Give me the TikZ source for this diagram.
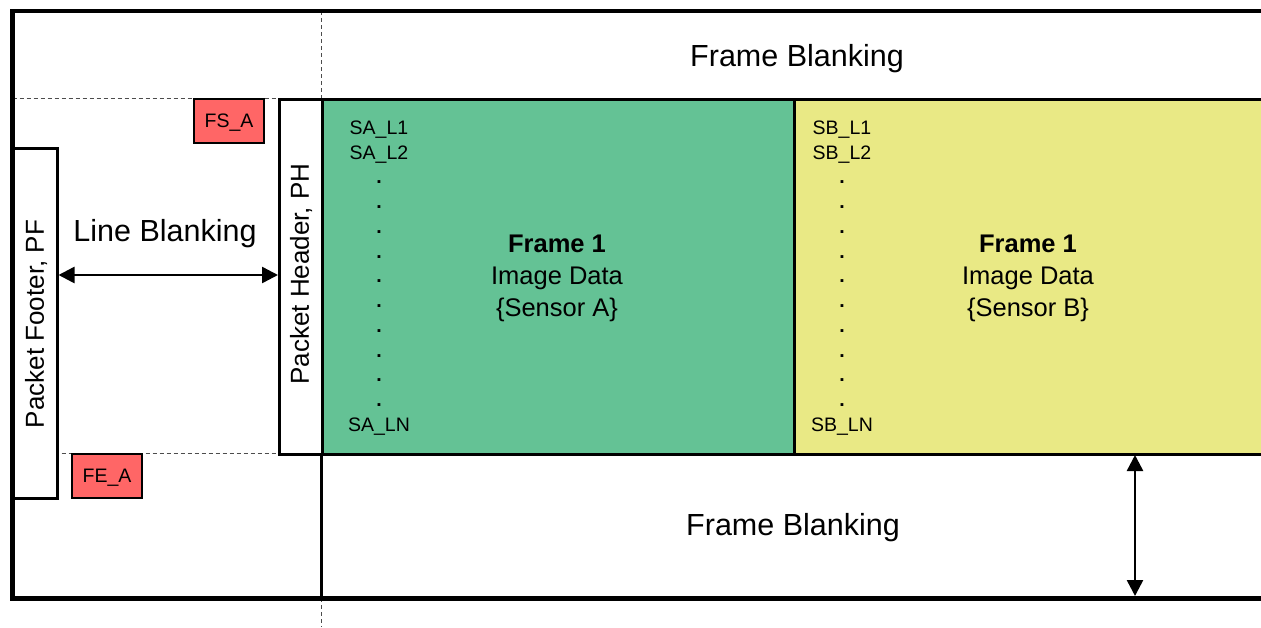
\documentclass[tikz,border=0pt]{standalone}
\usepackage{fontspec}
\setmainfont{Liberation Sans}
\usetikzlibrary{arrows.meta}
\definecolor{grn}{RGB}{100,194,149}
\definecolor{ylw}{RGB}{233,233,133}
\definecolor{rd}{RGB}{255,102,102}
\newcommand{\dt}{\textbf{.}}
\tikzset{
  box/.style={draw=black, line width=2.5pt, inner sep=0pt, anchor=north west},
  tag/.style={box, fill=rd, line width=2pt},
  dsh/.style={draw=black!70, line width=0.9pt, dash pattern=on 4pt off 3pt},
  dbl/.style={line width=2.5pt, {Triangle[length=16pt,width=16pt]}-{Triangle[length=16pt,width=16pt]}},
  big/.style={font=\fontsize{30.5}{36}\selectfont},
  mid/.style={font=\fontsize{25.5}{32}\selectfont, align=center},
  small/.style={font=\fontsize{19.5}{24.75}\selectfont, align=center},
  tagtxt/.style={font=\fontsize{19.5}{24}\selectfont},
  side/.style={rotate=90, font=\fontsize{26}{30}\selectfont}
}
\begin{document}
\begin{tikzpicture}[x=1pt,y=-1pt]
\useasboundingbox (0,0) rectangle (1261,627);
% dashed guides
\coordinate (vtop) at (321.5,11);
\coordinate (vbot) at (321.5,627);
\draw[dsh] (vtop) -- (321.5,98);
\draw[dsh] (321.5,598) -- (vbot);
\draw[dsh] (12.5,98) -- (278,98);
\draw[dsh] (12.5,453) -- (278,453);
% data boxes
\node[box, fill=grn, minimum width=472pt, minimum height=355pt] (ga) at (321,98) {};
\node[box, fill=ylw, minimum width=480pt, minimum height=355pt] (yb) at (793,98) {};
% header / footer
\node[box, fill=white, minimum width=43pt, minimum height=355pt] (ph) at (278,98) {};
\node[box, fill=white, minimum width=44pt, minimum height=350pt] (pf) at (12,147) {};
\node[side] (pht) at (301,274) {Packet Header, PH};
\node[side] (pft) at (36,324) {Packet Footer, PF};
% vertical divider below
\coordinate (dv1) at (321.5,453);
\coordinate (dv2) at (321.5,598);
\draw[line width=2.5pt] (dv1) -- (dv2);
% outer frame
\draw[line width=4.5pt, line join=miter] (1265,11) -- (12.5,11) -- (12.5,598.5) -- (1265,598.5);
% tags
\node[tag, minimum width=70pt, minimum height=44pt] (fs) at (193,98) {};
\node[tagtxt] at ([yshift=-2pt]fs.center) {FS\_A};
\node[tag, minimum width=70pt, minimum height=44pt] (fe) at (71,453) {};
\node[tagtxt] at ([yshift=-2pt]fe.center) {FE\_A};
% texts
\node[big] (fb1) at (797,58.5) {Frame Blanking};
\node[big] (fb2) at (793,527.5) {Frame Blanking};
\node[big] (lbt) at (165,233.5) {Line Blanking};
\node[mid] (fa) at (557,278.5) {\textbf{Frame 1}\\Image Data\\\{Sensor A\}};
\node[mid] (fbb) at (1028,278.5) {\textbf{Frame 1}\\Image Data\\\{Sensor B\}};
\node[small] (la) at (379,278) {SA\_L1\\SA\_L2\\\dt\\\dt\\\dt\\\dt\\\dt\\\dt\\\dt\\\dt\\\dt\\\dt\\SA\_LN};
\node[small] (lbb) at (842,278) {SB\_L1\\SB\_L2\\\dt\\\dt\\\dt\\\dt\\\dt\\\dt\\\dt\\\dt\\\dt\\\dt\\SB\_LN};
% arrows
\coordinate (lb) at (0,275);
\draw[dbl] (pf.east |- lb) -- (ph.west |- lb);
\coordinate (va) at (1135,455);
\coordinate (vb) at (1135,596);
\draw[dbl] (va) -- (vb);
\end{tikzpicture}
\end{document}
